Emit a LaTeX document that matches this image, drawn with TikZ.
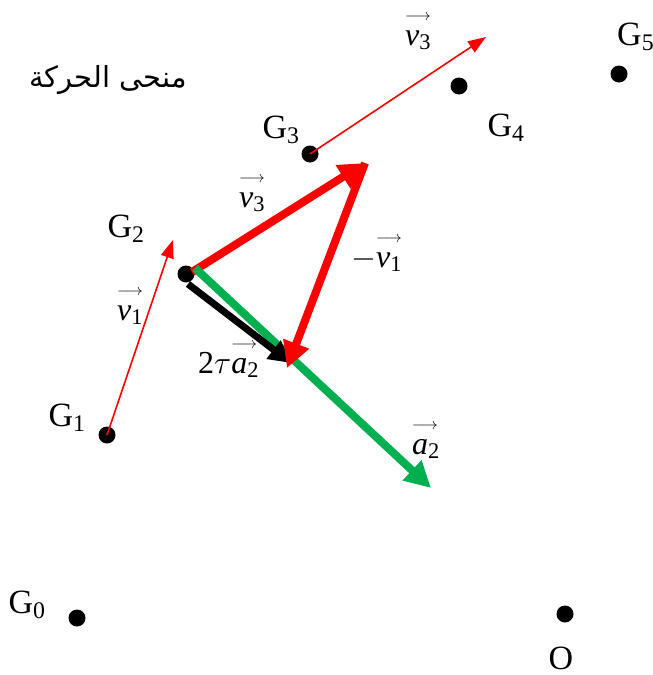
\documentclass[tikz,border=0pt]{standalone}
\usepackage{fix-cm}
\usepackage{amsmath}
\usepackage{fontspec}
\setmainfont{Liberation Serif}
\newfontfamily\arabicfont[Script=Arabic]{DejaVu Sans}
\TeXXeTstate=1
\usetikzlibrary{arrows.meta}
\definecolor{vred}{RGB}{255,0,0}
\definecolor{vgreen}{RGB}{0,176,80}
\newcommand{\vecarrow}{\makebox[0pt][l]{\raisebox{25pt}{$\scriptscriptstyle\longrightarrow$}}}
\newcommand{\vv}[2]{\vecarrow$\textit{#1}_{\textrm{#2}}$}
\begin{document}
\begin{tikzpicture}[x=1pt,y=-1pt,
  dot/.style={circle,fill=black,inner sep=0pt,minimum size=17pt},
  lab/.style={font=\fontsize{34}{40}\selectfont,inner sep=0pt},
  vlab/.style={font=\fontsize{32}{38}\selectfont,inner sep=0pt,anchor=base west},
  thinvec/.style={draw=vred,line width=1.6pt,-{Triangle[length=18pt,width=13pt]}},
  thickred/.style={draw=vred,line width=8pt,-{Triangle[length=26pt,width=26pt]}},
  thickgreen/.style={draw=vgreen,line width=8pt,-{Triangle[length=26pt,width=26pt]}},
  thickblack/.style={draw=black,line width=7pt,-{Triangle[length=22pt,width=22pt]}}]
\useasboundingbox (0,0) rectangle (653,675);

% points
\node[dot] (G0) at (77,618) {};
\node[dot] (O)  at (565,614) {};
\node[dot] (G1) at (107,435) {};
\node[dot] (G2) at (186,274) {};
\node[dot] (G3) at (310,154) {};
\node[dot] (G4) at (459,86) {};
\node[dot] (G5) at (619,74) {};

% point labels
\node[lab] (lG0) at (27,605) {G\textsubscript{0}};
\node[lab] (lO)  at (561,658) {O};
\node[lab] (lG1) at (67,418) {G\textsubscript{1}};
\node[lab] (lG2) at (126,229) {G\textsubscript{2}};
\node[lab] (lG3) at (281,130) {G\textsubscript{3}};
\node[lab] (lG4) at (506,128) {G\textsubscript{4}};
\node[lab,anchor=west] (lG5) at (617,37) {G\textsubscript{5}};

% title
\node[inner sep=0pt,font=\arabicfont\fontsize{29}{34}\selectfont] (title) at (108,80) {\beginR منحى الحركة\endR};

% coordinates for vector ends
\coordinate (v1tip) at (173,240);
\coordinate (v3tip) at (486,37);
\coordinate (A) at (192,272);
\coordinate (B) at (365,163);
\coordinate (C) at (287,368);
\coordinate (Gs) at (195,268);
\coordinate (Gt) at (431,488);
\coordinate (Ks) at (188,284);
\coordinate (Kt) at (291,363);

% thin velocity vectors
\draw[thinvec] (G1.center) -- (v1tip);
\draw[thinvec] (G3.center) -- (v3tip);

% construction
\draw[thickred] (A) -- (B);
\draw[thickgreen] (Gs) -- (Gt);
\draw[thickblack] (Ks) -- (Kt);
\draw[thickred] (B) -- (C);

% vector labels
\node[vlab] (lv3a) at (405,45) {\vv{v}{3}};
\node[vlab] (lv1)  at (117,320) {\vv{v}{1}};
\node[vlab] (lv3b) at (239,207) {\vv{v}{3}};
\node[vlab] (lmv1) at (351,267) {$-$\vv{v}{1}};
\node[vlab] (l2ta) at (198,373) {2$\tau$\vv{a}{2}};
\node[vlab] (la2)  at (412,454) {\vv{a}{2}};
\end{tikzpicture}
\end{document}
